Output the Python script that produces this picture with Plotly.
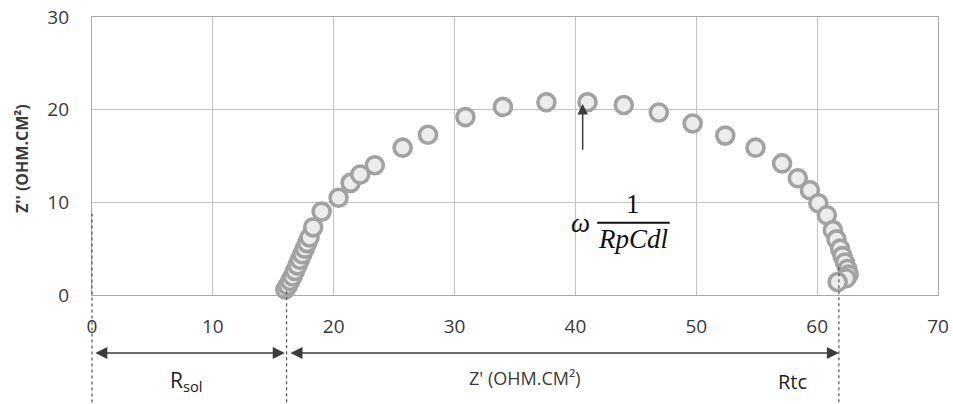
import plotly.graph_objects as go

z_real = [16.0, 16.2, 16.4, 16.6, 16.8, 17.0, 17.2, 17.4, 17.6, 17.8, 18.0, 18.3, 19.0,
          20.4, 21.4, 22.2, 23.4, 25.7, 27.8, 30.9, 34.0, 37.6, 41.0, 44.0, 46.9, 49.7,
          52.4, 54.9, 57.1, 58.4, 59.4, 60.1, 60.8, 61.3, 61.6, 61.9, 62.1, 62.3, 62.5,
          62.6, 62.4, 61.7]
z_imag = [0.6, 1.0, 1.5, 2.0, 2.6, 3.2, 3.8, 4.4, 5.0, 5.6, 6.2, 7.3, 9.0,
          10.5, 12.1, 13.0, 14.0, 15.9, 17.3, 19.2, 20.3, 20.8, 20.8, 20.5, 19.7, 18.5,
          17.2, 15.9, 14.2, 12.6, 11.3, 9.9, 8.6, 7.0, 6.0, 5.0, 4.2, 3.5, 2.8,
          2.2, 1.8, 1.4]

x_ticks = [0, 10, 20, 30, 40, 50, 60, 70]
y_ticks = [0, 10, 20, 30]
X_MAX, Y_MAX = 70, 30
r_sol = 16.1
r_tc = 61.8
peak_x = 40.6


def px(x):
    return x / X_MAX


def py(y):
    return y / Y_MAX


FONT = "Open Sans"
TXT = "#3a3a3a"

fig = go.Figure()
fig.add_trace(go.Scatter(
    x=z_real, y=z_imag, mode="markers",
    marker=dict(symbol="circle", size=17, color="#ececec",
                line=dict(color="#a2a2a2", width=3.6)),
    showlegend=False, hoverinfo="x+y", cliponaxis=False))

axis_common = dict(showgrid=True, gridcolor="#c4c4c4", gridwidth=1.3, zeroline=False,
                   showline=True, linecolor="#a8a8a8", linewidth=1.3, mirror=True,
                   ticks="", ticklen=0, automargin=False,
                   tickfont=dict(size=19, color=TXT, family=FONT))
fig.update_layout(
    width=953, height=404,
    margin=dict(l=92, r=15, t=17, b=109),
    paper_bgcolor="white", plot_bgcolor="white",
    font=dict(family=FONT, color=TXT, size=17),
    xaxis=dict(range=[0, X_MAX], tickvals=x_ticks, ticklabelstandoff=14, **axis_common),
    yaxis=dict(range=[0, Y_MAX], tickvals=y_ticks, ticklabelstandoff=18, **axis_common),
)

# dashed vertical guide lines (extend below the plot area)
dash_col = "#555555"
bottom = -0.40
for xv, y0 in [(0, 8.8), (r_sol, 0.4), (r_tc, 3.0)]:
    fig.add_shape(type="line", xref="paper", yref="paper", x0=px(xv), x1=px(xv),
                  y0=py(y0), y1=bottom, line=dict(color=dash_col, width=1.2, dash="dot"))

arrow_y = -0.2086
ann_common = dict(xref="x domain", yref="y domain", axref="x domain", ayref="y domain",
                  text="", showarrow=True, arrowhead=2, arrowsize=1.6, arrowwidth=1.5,
                  arrowcolor="#3c3c3c", arrowside="end+start", standoff=0, startstandoff=0)
fig.add_annotation(x=px(r_sol - 0.15), y=arrow_y, ax=px(0.15), ay=arrow_y, **ann_common)
fig.add_annotation(x=px(r_tc), y=arrow_y, ax=px(r_sol + 0.2), ay=arrow_y, **ann_common)

# upward arrow to the peak
fig.add_annotation(x=peak_x, y=20.6, ax=peak_x, ay=15.5, xref="x", yref="y",
                   axref="x", ayref="y", text="", showarrow=True, arrowhead=2,
                   arrowsize=1.4, arrowwidth=1.5, arrowcolor="#3c3c3c")

# bottom labels
fig.add_annotation(x=px(7.8), y=-0.31, xref="paper", yref="paper", showarrow=False,
                   xanchor="center", yanchor="middle",
                   text="R<sub>sol</sub>", font=dict(size=21, color="#222", family=FONT))
fig.add_annotation(x=px(35.8), y=-0.30, xref="paper", yref="paper", showarrow=False,
                   xanchor="center", yanchor="middle",
                   text="Z' (OHM.CM²)", font=dict(size=18, color=TXT, family=FONT))
fig.add_annotation(x=px(58.0), y=-0.31, xref="paper", yref="paper", showarrow=False,
                   xanchor="center", yanchor="middle",
                   text="Rtc", font=dict(size=20, color="#222", family=FONT))

# y axis title
fig.add_annotation(x=-(92 - 22) / 846, y=(295 - 159) / 278, xref="paper", yref="paper",
                   showarrow=False, xanchor="center", yanchor="middle",
                   text="<b>Z'' (OHM.CM²)</b>", textangle=-90,
                   font=dict(size=16, color=TXT, family=FONT))

# formula  omega * 1/(RpCdl)
serif = "Liberation Serif"
fig.add_annotation(x=40.4, y=7.8, xref="x", yref="y", showarrow=False,
                   xanchor="center", yanchor="middle",
                   text="<i>ω</i>", font=dict(size=27, color="#111", family=serif))
fig.add_annotation(x=44.8, y=9.8, xref="x", yref="y", showarrow=False,
                   xanchor="center", yanchor="middle",
                   text="1", font=dict(size=27, color="#111", family=serif))
fig.add_shape(type="line", xref="x", yref="y", x0=41.8, x1=47.8, y0=7.8, y1=7.8,
              line=dict(color="#111", width=2))
fig.add_annotation(x=44.8, y=6.0, xref="x", yref="y", showarrow=False,
                   xanchor="center", yanchor="middle",
                   text="<i>RpCdl</i>", font=dict(size=27, color="#111", family=serif))

fig.write_html("out.html", config={"displayModeBar": False},
               post_script="document.body.style.margin='0';")
